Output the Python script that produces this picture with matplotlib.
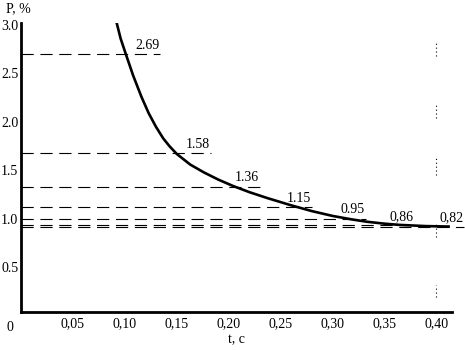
import matplotlib.pyplot as plt

# curve P(t)
t = [0.092, 0.096, 0.101, 0.108, 0.116, 0.123, 0.130, 0.137, 0.143, 0.150,
     0.163, 0.176, 0.190, 0.204, 0.220, 0.237, 0.260, 0.280, 0.300, 0.318,
     0.333, 0.350, 0.365, 0.390, 0.413]
p = [3.03, 2.86, 2.70, 2.48, 2.26, 2.09, 1.95, 1.83, 1.75, 1.67,
     1.56, 1.48, 1.405, 1.34, 1.275, 1.215, 1.14, 1.08, 1.03, 0.995,
     0.97, 0.95, 0.937, 0.925, 0.92]

# dashed reference levels and their annotations
levels = [2.70, 1.68, 1.33, 1.12, 1.00, 0.935, 0.915]
level_labels = ['2.69', '1.58', '1.36', '1.15', '0.95', '0,86', '0,82']
label_t = [0.110, 0.159, 0.206, 0.256, 0.308, 0.355, 0.403]

xticks = [0.05, 0.10, 0.15, 0.20, 0.25, 0.30, 0.35, 0.40]
xtick_labels = ['0,05', '0,10', '0,15', '0,20', '0,25', '0,30', '0,35', '0,40']
yticks = [0.5, 1.0, 1.5, 2.0, 2.5, 3.0]
ytick_labels = ['0.5', '1.0', '1.5', '2.0', '2.5', '3.0']

# faint dotted scraps at t = 0.40
dot_lo = [2.68, 2.04, 1.45, 0.81, 0.19]
dot_hi = [2.81, 2.18, 1.64, 0.97, 0.32]

plt.rcParams['font.family'] = ['Liberation Serif', 'DejaVu Serif']
plt.rcParams['font.size'] = 10

fig = plt.figure(figsize=(4.65, 3.5), dpi=100)
fig.patch.set_facecolor('white')
ax = fig.add_axes([0.045, 0.109, 0.927, 0.825])

for lv, lab, lt in zip(levels, level_labels, label_t):
    ax.plot([0, lt + 0.024], [lv, lv], color='black', lw=0.8,
            dashes=(11, 6), clip_on=False, zorder=2)
    ax.text(lt, lv + 0.025, lab, ha='left', va='bottom', fontsize=10)

ax.vlines([0.40] * len(dot_lo), dot_lo, dot_hi, colors='black',
          linestyles=(0, (1, 2.5)), lw=0.8)

ax.plot(t, p, color='black', lw=1.9, solid_capstyle='butt',
        solid_joinstyle='round', zorder=3)

ax.set_xlim(0, 0.415)
ax.set_ylim(0.04, 3.02)
ax.spines['top'].set_visible(False)
ax.spines['right'].set_visible(False)
ax.spines['left'].set_linewidth(2)
ax.spines['bottom'].set_linewidth(2)

ax.set_xticks(xticks)
ax.set_xticklabels(xtick_labels)
ax.set_yticks(yticks)
ax.set_yticklabels(ytick_labels)
ax.tick_params(length=0, pad=4)
ax.tick_params(axis='y', pad=2)

ax.text(-0.011, -0.03, '0', transform=ax.get_xaxis_transform(),
        ha='center', va='top', fontsize=10)
ax.set_xlabel('t, c', labelpad=2)
fig.text(0.012, 0.995, 'P, %', ha='left', va='top', fontsize=10)

fig.savefig('out.png', dpi=100)
